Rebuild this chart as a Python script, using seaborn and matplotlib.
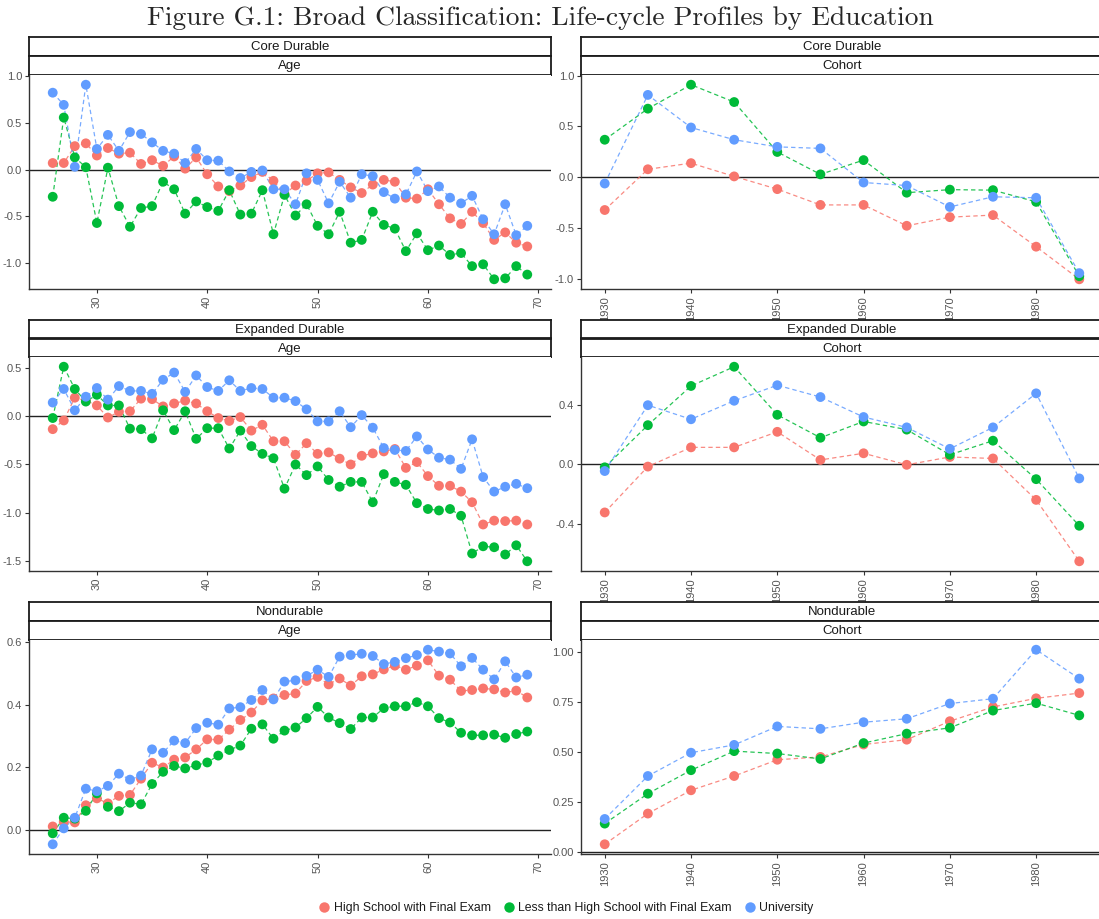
import numpy as np
import pandas as pd
import matplotlib
matplotlib.use("Agg")
import matplotlib.pyplot as plt
from matplotlib.ticker import MultipleLocator, FormatStrFormatter
from matplotlib.lines import Line2D
import seaborn as sns

# ---------------- data ----------------
ages = list(range(26, 70))
cohorts = list(range(1930, 1990, 5))
education = ["High School with Final Exam",
             "Less than High School with Final Exam",
             "University"]
colors = ["#F8766D", "#00BA38", "#619CFF"]

core_age_hs = [0.07, 0.07, 0.25, 0.28, 0.15, 0.23, 0.17, 0.18, 0.06, 0.10, 0.04, 0.14, 0.01, 0.13, -0.05,
               -0.18, -0.23, -0.17, -0.08, -0.025, -0.12, -0.26, -0.17,
               -0.12, -0.04, -0.03, -0.11, -0.19, -0.25, -0.16, -0.11, -0.13, -0.30, -0.31, -0.21, -0.37,
               -0.52, -0.58, -0.45, -0.57, -0.75, -0.67, -0.78, -0.82]
core_age_lhs = [-0.29, 0.555, 0.13, 0.025, -0.57, 0.02, -0.39, -0.61, -0.41, -0.39, -0.13, -0.21, -0.47,
                -0.34, -0.40, -0.44, -0.22, -0.48, -0.47, -0.22, -0.69, -0.27, -0.49,
                -0.37, -0.60, -0.69, -0.45, -0.78, -0.75, -0.45, -0.59, -0.63, -0.87, -0.68, -0.86, -0.81,
                -0.91, -0.89, -1.03, -1.01, -1.17, -1.16, -1.03, -1.12]
core_age_uni = [0.82, 0.69, 0.03, 0.905, 0.22, 0.37, 0.20, 0.40, 0.38, 0.29, 0.20, 0.17, 0.07, 0.22, 0.10,
                0.095, -0.02, -0.09, -0.025, -0.01, -0.21, -0.21, -0.37,
                -0.04, -0.11, -0.36, -0.13, -0.30, -0.05, -0.07, -0.24, -0.31, -0.265, -0.02, -0.23, -0.18,
                -0.30, -0.36, -0.28, -0.53, -0.69, -0.37, -0.70, -0.60]
core_coh_hs = [-0.32, 0.08, 0.14, 0.01, -0.115, -0.27, -0.27, -0.475, -0.39, -0.37, -0.68, -1.00]
core_coh_lhs = [0.37, 0.675, 0.91, 0.74, 0.25, 0.03, 0.17, -0.15, -0.12, -0.125, -0.24, -0.97]
core_coh_uni = [-0.06, 0.81, 0.49, 0.37, 0.30, 0.285, -0.05, -0.08, -0.29, -0.19, -0.20, -0.94]

exp_age_hs = [-0.135, -0.045, 0.19, 0.16, 0.11, -0.015, 0.045, 0.05, 0.18, 0.175, 0.10, 0.13, 0.16, 0.13,
              0.05, -0.02, -0.05, -0.01, -0.15, -0.09, -0.26, -0.26, -0.40,
              -0.28, -0.39, -0.375, -0.44, -0.50, -0.41, -0.385, -0.365, -0.34, -0.535, -0.475, -0.62,
              -0.72, -0.72, -0.78, -0.89, -1.12, -1.08, -1.085, -1.08, -1.12]
exp_age_lhs = [-0.02, 0.51, 0.28, 0.15, 0.22, 0.11, 0.11, -0.13, -0.135, -0.23, 0.06, -0.145, 0.05, -0.235,
               -0.125, -0.125, -0.335, -0.15, -0.31, -0.39, -0.435, -0.75, -0.50,
               -0.61, -0.52, -0.66, -0.73, -0.68, -0.68, -0.89, -0.60, -0.68, -0.71, -0.90, -0.96, -0.975,
               -0.96, -1.03, -1.42, -1.345, -1.355, -1.43, -1.335, -1.50]
exp_age_uni = [0.14, 0.28, 0.06, 0.20, 0.29, 0.17, 0.31, 0.26, 0.26, 0.23, 0.375, 0.45, 0.25, 0.42, 0.30,
               0.26, 0.37, 0.26, 0.29, 0.28, 0.19, 0.19, 0.155,
               0.07, -0.055, -0.055, 0.05, -0.115, 0.01, -0.12, -0.33, -0.35, -0.36, -0.21, -0.345, -0.43,
               -0.45, -0.545, -0.24, -0.63, -0.78, -0.73, -0.70, -0.745]
exp_coh_hs = [-0.325, -0.015, 0.115, 0.115, 0.22, 0.03, 0.075, -0.003, 0.05, 0.04, -0.24, -0.655]
exp_coh_lhs = [-0.02, 0.265, 0.53, 0.66, 0.335, 0.18, 0.29, 0.235, 0.065, 0.16, -0.10, -0.415]
exp_coh_uni = [-0.045, 0.40, 0.305, 0.43, 0.535, 0.455, 0.32, 0.25, 0.105, 0.25, 0.48, -0.095]

non_age_hs = [0.01, 0.025, 0.023, 0.078, 0.10, 0.084, 0.108, 0.111, 0.163, 0.214, 0.199, 0.224, 0.231,
              0.257, 0.289, 0.288, 0.32, 0.351, 0.375, 0.414, 0.42, 0.431, 0.436,
              0.476, 0.489, 0.465, 0.484, 0.461, 0.491, 0.497, 0.513, 0.525, 0.512, 0.525, 0.542, 0.493,
              0.48, 0.444, 0.447, 0.452, 0.449, 0.439, 0.445, 0.423]
non_age_lhs = [-0.012, 0.038, 0.035, 0.06, 0.116, 0.073, 0.059, 0.086, 0.081, 0.146, 0.185, 0.204, 0.196,
               0.206, 0.215, 0.237, 0.255, 0.269, 0.323, 0.337, 0.291, 0.317, 0.327,
               0.357, 0.393, 0.359, 0.341, 0.322, 0.359, 0.359, 0.389, 0.395, 0.395, 0.408, 0.395, 0.357,
               0.343, 0.31, 0.302, 0.302, 0.304, 0.294, 0.306, 0.314]
non_age_uni = [-0.047, 0.004, 0.038, 0.131, 0.123, 0.14, 0.179, 0.16, 0.173, 0.257, 0.246, 0.285, 0.277,
               0.325, 0.342, 0.336, 0.388, 0.392, 0.415, 0.447, 0.417, 0.474, 0.478,
               0.492, 0.512, 0.489, 0.554, 0.559, 0.563, 0.556, 0.53, 0.537, 0.549, 0.559, 0.576, 0.57,
               0.564, 0.523, 0.55, 0.512, 0.481, 0.539, 0.487, 0.496]
non_coh_hs = [0.04, 0.193, 0.309, 0.38, 0.461, 0.475, 0.537, 0.561, 0.653, 0.724, 0.767, 0.793]
non_coh_lhs = [0.143, 0.292, 0.409, 0.504, 0.492, 0.465, 0.544, 0.591, 0.62, 0.706, 0.743, 0.682]
non_coh_uni = [0.166, 0.38, 0.496, 0.535, 0.627, 0.615, 0.648, 0.665, 0.741, 0.765, 1.009, 0.865]

categories = ["Core Durable", "Expanded Durable", "Nondurable"]
age_ticks = [30, 40, 50, 60, 70]
cohort_ticks = [1930, 1940, 1950, 1960, 1970, 1980]

# ---------------- build long table ----------------
panels = {
    ("Core Durable", "Age"): (ages, [core_age_hs, core_age_lhs, core_age_uni]),
    ("Core Durable", "Cohort"): (cohorts, [core_coh_hs, core_coh_lhs, core_coh_uni]),
    ("Expanded Durable", "Age"): (ages, [exp_age_hs, exp_age_lhs, exp_age_uni]),
    ("Expanded Durable", "Cohort"): (cohorts, [exp_coh_hs, exp_coh_lhs, exp_coh_uni]),
    ("Nondurable", "Age"): (ages, [non_age_hs, non_age_lhs, non_age_uni]),
    ("Nondurable", "Cohort"): (cohorts, [non_coh_hs, non_coh_lhs, non_coh_uni]),
}
rows = []
for (cat, kind), (xs, series) in panels.items():
    for ed, vals in zip(education, series):
        for x, v in zip(xs, vals):
            rows.append({"category": cat, "kind": kind, "x": x, "value": v, "Education": ed})
df = pd.DataFrame(rows)

# ---------------- styling ----------------
sns.set_style("white")
plt.rcParams["font.family"] = ["Liberation Sans", "DejaVu Sans"]
plt.rcParams["axes.unicode_minus"] = False

W, H = 1099, 919
fig = plt.figure(figsize=(W / 100, H / 100), dpi=100)
palette = dict(zip(education, colors))


def rect(l, t, r, b):
    return [l / W, 1 - b / H, (r - l) / W, (b - t) / H]


col_x = {"Age": (29, 551), "Cohort": (581, 1103)}
row_y = [(37, 75, 289), (320, 357, 571), (602, 640, 854)]
ystep = {("Core Durable", "Age"): (0.5, "%.1f"), ("Core Durable", "Cohort"): (0.5, "%.1f"),
         ("Expanded Durable", "Age"): (0.5, "%.1f"), ("Expanded Durable", "Cohort"): (0.4, "%.1f"),
         ("Nondurable", "Age"): (0.2, "%.1f"), ("Nondurable", "Cohort"): (0.25, "%.2f")}

axis_col = "#333333"
tick_col = "#555555"

for ri, cat in enumerate(categories):
    st, at, ab = row_y[ri]
    mid = (st + at) / 2
    for kind in ["Age", "Cohort"]:
        l, r = col_x[kind]
        # strips
        for (t0, b0, label) in [(st, mid, cat), (mid, at, kind)]:
            sax = fig.add_axes(rect(l, t0, r, b0))
            sax.set_xticks([]); sax.set_yticks([])
            sax.set_facecolor("white")
            for s in sax.spines.values():
                s.set_color("#1a1a1a"); s.set_linewidth(1.3); s.set_visible(True)
            sax.text(0.5, 0.45, label, ha="center", va="center", fontsize=9.5,
                     color="#1A1A1A", transform=sax.transAxes)
        ax = fig.add_axes(rect(l, at, r, ab))
        d = df[(df.category == cat) & (df.kind == kind)]
        ax.axhline(0, color="#222222", lw=1.0, zorder=1)
        sns.lineplot(data=d, x="x", y="value", hue="Education", hue_order=education,
                     palette=palette, ax=ax, legend=False, linestyle=(0, (3.5, 2.5)),
                     linewidth=0.9, alpha=0.85, zorder=2)
        sns.scatterplot(data=d, x="x", y="value", hue="Education", hue_order=education,
                        palette=palette, ax=ax, legend=False, s=50, linewidth=0, zorder=3)
        xs = ages if kind == "Age" else cohorts
        span = max(xs) - min(xs)
        ax.set_xlim(min(xs) - 0.05 * span, max(xs) + 0.05 * span)
        vmin, vmax = d.value.min(), d.value.max()
        yr = vmax - vmin
        ax.set_ylim(vmin - 0.05 * yr, vmax + 0.05 * yr)
        ax.set_xticks(age_ticks if kind == "Age" else cohort_ticks)
        step, fmt = ystep[(cat, kind)]
        ax.yaxis.set_major_locator(MultipleLocator(step))
        ax.yaxis.set_major_formatter(FormatStrFormatter(fmt))
        ax.set_xlabel(""); ax.set_ylabel("")
        for side in ["top", "right"]:
            ax.spines[side].set_visible(False)
        for side in ["left", "bottom"]:
            ax.spines[side].set_color(axis_col)
            ax.spines[side].set_linewidth(1.0)
        ax.tick_params(axis="both", which="major", length=3, width=0.8, color=axis_col,
                       labelsize=8, labelcolor=tick_col, pad=2, direction="out",
                       left=True, bottom=True)
        ax.tick_params(axis="x", labelrotation=90)

# title
fig.text(540 / W, 1 - 18 / H, "Figure G.1: Broad Classification: Life-cycle Profiles by Education",
         ha="center", va="center", fontsize=19.8, family=["cmr10", "DejaVu Serif"])

# legend
handles = [Line2D([0], [0], marker="o", linestyle="none", markersize=7.5,
                  markerfacecolor=c, markeredgewidth=0) for c in colors]
fig.legend(handles, education, loc="center", bbox_to_anchor=(566 / W, 1 - 908 / H), ncol=3,
           frameon=False, fontsize=8.8, handletextpad=0.25, columnspacing=1.0,
           handlelength=1.0, labelcolor="#1A1A1A")

fig.savefig("out.png", dpi=100)
